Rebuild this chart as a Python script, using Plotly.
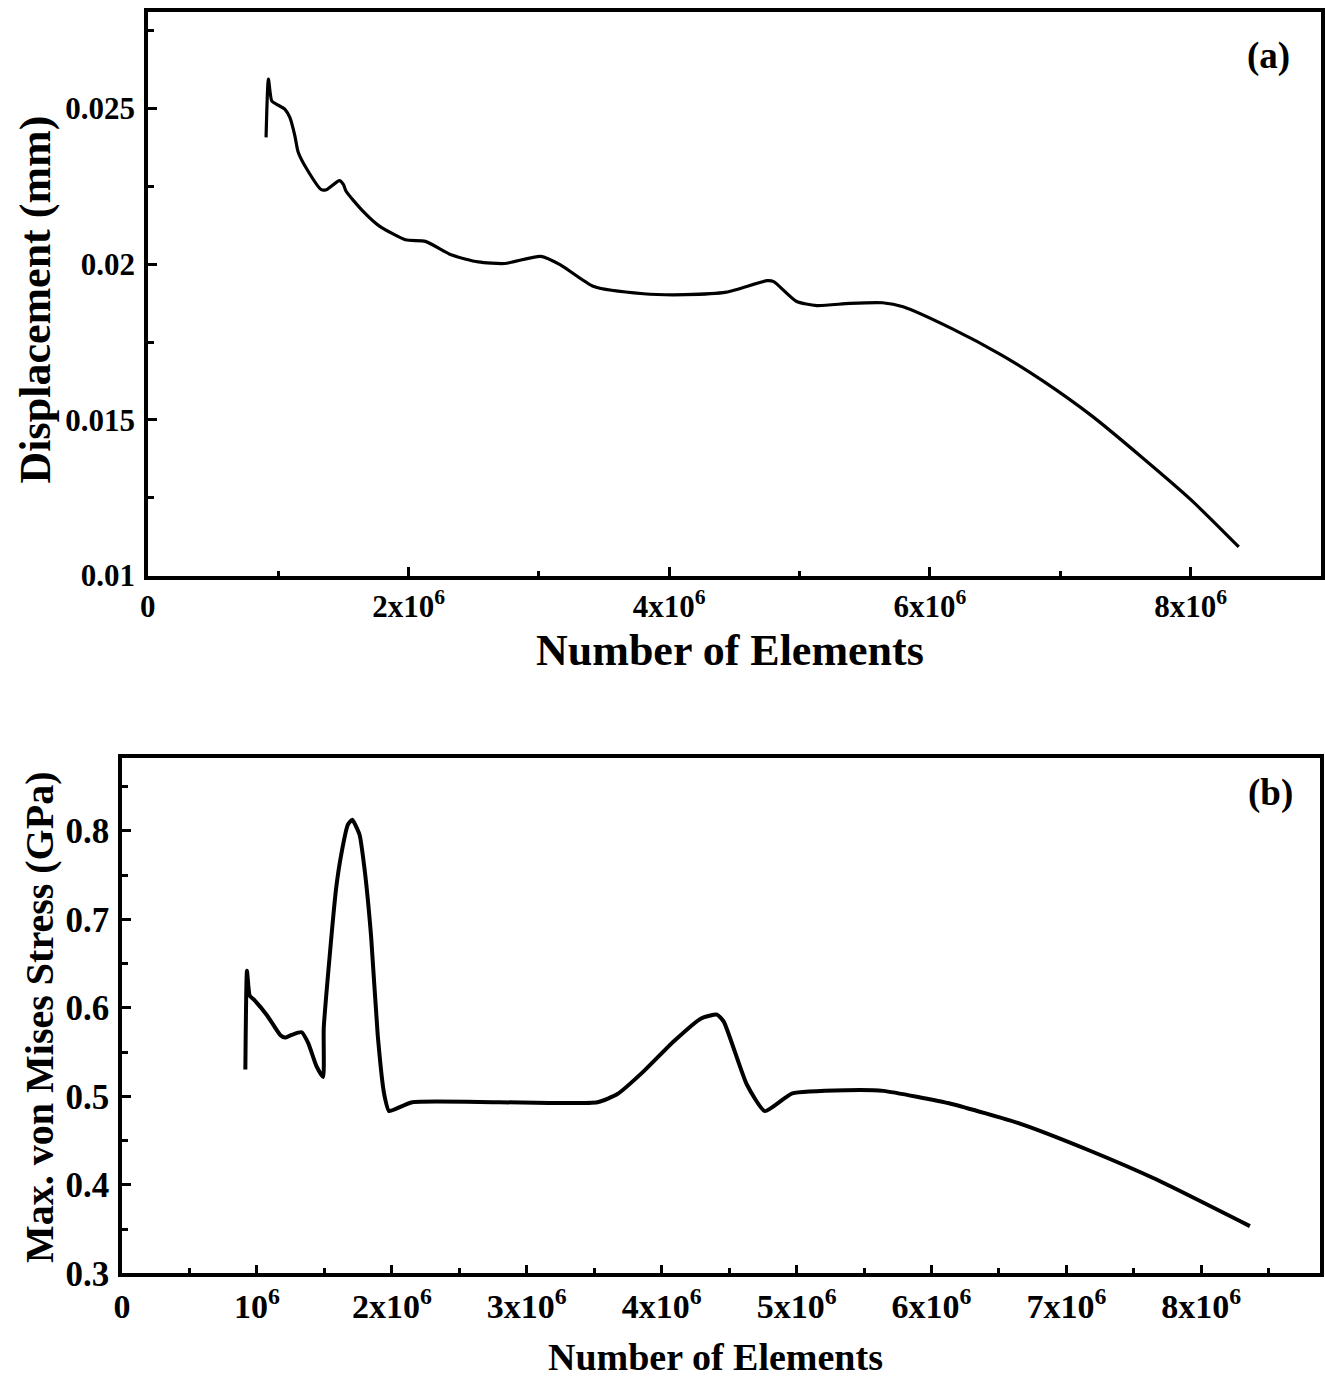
import plotly.graph_objects as go

# ---------------- data (x in millions of elements) ----------------
elements_a_m = [0.907, 0.925, 0.951, 0.989, 1.052, 1.090, 1.128, 1.153, 1.217, 1.331,
                1.369, 1.470, 1.501, 1.521, 1.648, 1.774, 1.977, 2.129, 2.332, 2.535,
                2.738, 3.017, 3.168, 3.422, 3.802, 4.123, 4.438, 4.753, 4.801, 4.974,
                5.132, 5.384, 5.636, 5.794, 6.172, 6.550, 6.866, 7.244, 7.623, 8.001, 8.369]
displacement_mm = [0.02407, 0.02594, 0.02523, 0.02513, 0.02497, 0.02470, 0.02412, 0.02360, 0.02307, 0.02239,
                   0.02239, 0.02268, 0.02255, 0.02234, 0.02171, 0.02123, 0.02078, 0.02073, 0.02029, 0.02007,
                   0.02002, 0.02025, 0.01997, 0.01928, 0.01905, 0.01902, 0.01910, 0.01947, 0.01944, 0.01881,
                   0.01867, 0.01874, 0.01876, 0.01863, 0.01792, 0.01708, 0.01625, 0.01512, 0.01381, 0.01244, 0.01092]

elements_b_m = [0.914, 0.926, 0.946, 0.976, 1.074, 1.172, 1.208, 1.257, 1.331, 1.380,
                1.441, 1.490, 1.495, 1.539, 1.588, 1.625, 1.674, 1.706, 1.760, 1.796,
                1.846, 1.895, 1.943, 1.980, 2.029, 2.152, 2.800, 3.524, 3.672, 3.868,
                4.088, 4.292, 4.410, 4.461, 4.630, 4.765, 4.968, 5.373, 5.643, 6.149,
                6.655, 7.162, 7.668, 8.360]
stress_gpa = [0.5305, 0.6419, 0.6140, 0.6096, 0.5918, 0.5695, 0.5665, 0.5695, 0.5725, 0.5602,
              0.5342, 0.5220, 0.5770, 0.6586, 0.7365, 0.7736, 0.8070, 0.8126, 0.7959, 0.7588,
              0.6808, 0.5695, 0.5027, 0.4834, 0.4860, 0.4934, 0.4934, 0.4934, 0.5027, 0.5286,
              0.5620, 0.5881, 0.5925, 0.5843, 0.5138, 0.4834, 0.5034, 0.5071, 0.5063, 0.4915,
              0.4693, 0.4395, 0.4061, 0.3535]

# tick definitions
a_xtick_vals = [0, 2e6, 4e6, 6e6, 8e6]
a_xtick_text = ["0", "2x10<sup>6</sup>", "4x10<sup>6</sup>", "6x10<sup>6</sup>", "8x10<sup>6</sup>"]
a_ytick_vals = [0.01, 0.015, 0.02, 0.025]
a_ytick_text = ["0.01", "0.015", "0.02", "0.025"]

b_xtick_vals = [0, 1e6, 2e6, 3e6, 4e6, 5e6, 6e6, 7e6, 8e6]
b_xtick_text = ["0", "10<sup>6</sup>", "2x10<sup>6</sup>", "3x10<sup>6</sup>", "4x10<sup>6</sup>",
                "5x10<sup>6</sup>", "6x10<sup>6</sup>", "7x10<sup>6</sup>", "8x10<sup>6</sup>"]
b_ytick_vals = [0.3, 0.4, 0.5, 0.6, 0.7, 0.8]
b_ytick_text = ["0.3", "0.4", "0.5", "0.6", "0.7", "0.8"]

MILLION = 1e6
FONT = "Liberation Serif"
W, H = 1325, 1394

fig = go.Figure()
fig.add_trace(go.Scatter(
    x=[v * MILLION for v in elements_a_m], y=displacement_mm,
    mode="lines", line=dict(color="black", width=3.2, shape="spline", smoothing=0.6),
    xaxis="x", yaxis="y", showlegend=False))
fig.add_trace(go.Scatter(
    x=[v * MILLION for v in elements_b_m], y=stress_gpa,
    mode="lines", line=dict(color="black", width=4, shape="spline", smoothing=0.5),
    xaxis="x2", yaxis="y2", showlegend=False))

common_axis = dict(showline=True, linecolor="black", linewidth=3.5, mirror=True,
                   ticks="inside", tickcolor="black", tickwidth=3,
                   showgrid=False, zeroline=False, tickmode="array")


def px_x(p):
    return p / W


def px_y(p):
    return 1 - p / H


fig.update_layout(
    width=W, height=H,
    margin=dict(l=0, r=0, t=0, b=0),
    paper_bgcolor="white", plot_bgcolor="white",
    xaxis=dict(common_axis, domain=[px_x(140), px_x(1323)], range=[0, 9e6], anchor="y",
               tickvals=a_xtick_vals, ticktext=a_xtick_text, ticklen=9,
               minor=dict(tickmode="array", tickvals=[1e6, 3e6, 5e6, 7e6], ticks="inside",
                          ticklen=5, tickwidth=3, tickcolor="black"),
               tickfont=dict(family=FONT, size=31, color="black", weight="bold")),
    yaxis=dict(common_axis, domain=[px_y(584), px_y(12)], range=[0.01, 0.0281], anchor="x",
               tickvals=a_ytick_vals, ticktext=a_ytick_text, ticklen=9, ticklabelstandoff=3,
               minor=dict(tickmode="array", tickvals=[0.0125, 0.0175, 0.0225, 0.0275], ticks="inside",
                          ticklen=6, tickwidth=3, tickcolor="black"),
               tickfont=dict(family=FONT, size=31, color="black", weight="bold")),
    xaxis2=dict(common_axis, domain=[px_x(114), px_x(1322)], range=[0, 8.88e6], anchor="y2",
                tickvals=b_xtick_vals, ticktext=b_xtick_text, ticklen=9,
                minor=dict(tickmode="array", tickvals=[0.5e6, 1.5e6, 2.5e6, 3.5e6, 4.5e6, 5.5e6, 6.5e6, 7.5e6, 8.5e6],
                           ticks="inside", ticklen=6, tickwidth=3, tickcolor="black"),
                tickfont=dict(family=FONT, size=34, color="black", weight="bold")),
    yaxis2=dict(common_axis, domain=[px_y(1292), px_y(769)], range=[0.3, 0.8824], anchor="x2",
                tickvals=b_ytick_vals, ticktext=b_ytick_text, ticklen=9, ticklabelstandoff=2,
                minor=dict(tickmode="array", tickvals=[0.35, 0.45, 0.55, 0.65, 0.75, 0.85], ticks="inside",
                           ticklen=6, tickwidth=3, tickcolor="black"),
                tickfont=dict(family=FONT, size=35, color="black", weight="bold")),
)

annos = [
    dict(text="Displacement (mm)", x=px_x(27), y=px_y(304), textangle=-90, size=44),
    dict(text="Number of Elements", x=px_x(727), y=px_y(660), textangle=0, size=44),
    dict(text="(a)", x=px_x(1270), y=px_y(57), textangle=0, size=37),
    dict(text="Max. von Mises Stress (GPa)", x=px_x(30), y=px_y(1032), textangle=-90, size=40),
    dict(text="Number of Elements", x=px_x(712), y=px_y(1377), textangle=0, size=38),
    dict(text="(b)", x=px_x(1272), y=px_y(805), textangle=0, size=37),
]
for a in annos:
    fig.add_annotation(text=a["text"], x=a["x"], y=a["y"], xref="paper", yref="paper",
                       xanchor="center", yanchor="middle", showarrow=False, textangle=a["textangle"],
                       font=dict(family=FONT, size=a["size"], color="black", weight="bold"))

fig.write_html("out.html",
               config={"displayModeBar": False},
               post_script="document.body.style.margin='0px';document.body.style.overflow='hidden';")
